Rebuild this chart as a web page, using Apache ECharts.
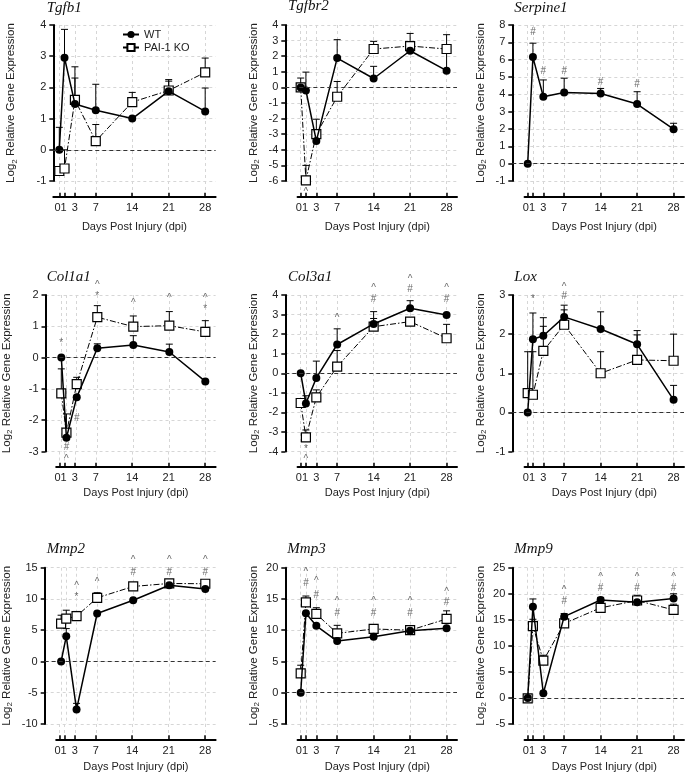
<!DOCTYPE html>
<html>
<head>
<meta charset="utf-8">
<script src="https://cdn.jsdelivr.net/npm/echarts@6/dist/echarts.min.js"></script>
<style>html,body{margin:0;padding:0;background:#fff;}#c{width:685px;height:776px;}</style>
</head>
<body>
<div id="c"></div>
<script>
const days = [0, 1, 3, 7, 14, 21, 28];
const dayLabelValues = [1, 3, 7, 14, 21, 28];
const xAxisTitle = 'Days Post Injury (dpi)';
const yAxisTitle = 'Log{s|2} Relative Gene Expression';

const tgfb1WT = [0, 2.95, 1.47, 1.27, 1.0, 1.88, 1.23];
const tgfb1WTErr = [0.72, 3.86, 2.3, 2.1, null, 2.25, 1.98];
const tgfb1KO = [-0.68, -0.6, 1.6, 0.28, 1.53, 1.9, 2.48];
const tgfb1KOErr = [null, 0.0, 2.66, 0.81, 1.84, 2.2, 2.94];
const tgfb1Notes = [];

const tgfbr2WT = [0, -0.2, -3.43, 1.88, 0.57, 2.35, 1.07];
const tgfbr2WTErr = [null, 0.98, null, 3.06, 1.35, null, 2.2];
const tgfbr2KO = [0.0, -5.96, -3.0, -0.6, 2.46, 2.65, 2.46];
const tgfbr2KOErr = [0.6, -5.0, -2.04, 0.38, 2.95, 3.46, 3.38];
const tgfbr2Notes = [[1, -6.75, '^']];

const serpine1WT = [0, 6.15, 3.86, 4.1, 4.05, 3.44, 1.99];
const serpine1WTErr = [null, 6.95, 4.83, 4.93, 4.34, 4.15, 2.33];
const serpine1Notes = [[1, 7.58, '#'], [3, 5.33, '#'], [7, 5.33, '#'], [14, 4.72, '#'], [21, 4.58, '#']];

const col1a1WT = [0, -2.56, -1.27, 0.3, 0.4, 0.18, -0.76];
const col1a1WTErr = [null, null, null, 0.44, 0.7, 0.43, null];
const col1a1KO = [-1.14, -2.4, -0.85, 1.29, 0.99, 1.02, 0.82];
const col1a1KOErr = [-0.36, -1.8, -0.63, 1.66, 1.33, 1.47, 1.18];
const col1a1Notes = [[0, 0.46, '*'], [1, -2.88, '#'], [1, -3.25, '^'], [3, -1.95, '#'], [7, 1.97, '*'], [7, 2.31, '^'],
  [14, 1.75, '^'], [21, 1.89, '^'], [28, 1.54, '*'], [28, 1.89, '^']];

const col3a1WT = [0, -1.54, -0.24, 1.47, 2.52, 3.32, 2.98];
const col3a1WTErr = [null, -1.15, 0.62, 2.27, 3.15, 3.71, null];
const col3a1KO = [-1.52, -3.28, -1.23, 0.34, 2.38, 2.64, 1.79];
const col3a1KOErr = [null, -2.9, -0.85, 1.16, 2.8, null, 2.5];
const col3a1Notes = [[1, -3.88, '*'], [1, -4.4, '^'], [7, 2.82, '^'], [14, 3.8, '#'], [14, 4.34, '^'],
  [21, 4.3, '#'], [21, 4.8, '^'], [28, 3.8, '#'], [28, 4.34, '^']];

const loxWT = [0, 1.87, 1.96, 2.44, 2.13, 1.74, 0.32];
const loxWTErr = [null, 2.54, 2.42, 2.74, 2.57, 2.09, 0.69];
const loxKO = [0.49, 0.45, 1.57, 2.24, 1.0, 1.34, 1.32];
const loxKOErr = [1.55, 1.55, 2.2, 2.62, 1.55, 1.98, 2.0];
const loxNotes = [[1, 2.9, '*'], [7, 2.98, '#'], [7, 3.21, '^']];

const mmp2WT = [0, 4.03, -7.7, 7.67, 9.8, 12.2, 11.6];
const mmp2WTErr = [null, 5.26, -6.7, null, null, null, null];
const mmp2KO = [6.06, 6.86, 7.24, 10.18, 12.0, 12.48, 12.43];
const mmp2KOErr = [7.4, 8.2, 8.0, 11.0, null, null, null];
const mmp2Notes = [[3, 10.34, '*'], [3, 12.06, '^'], [7, 12.75, '^'], [14, 14.2, '#'], [14, 16.2, '^'],
  [21, 14.2, '#'], [21, 16.2, '^'], [28, 14.2, '#'], [28, 16.2, '^']];

const mmp3WT = [0, 12.7, 10.7, 8.27, 8.97, 9.93, 10.3];
const mmp3WTErr = [null, null, null, null, null, null, null];
const mmp3KO = [3.1, 14.46, 12.6, 9.5, 10.2, 10.0, 11.8];
const mmp3KOErr = [4.4, 15.47, 13.6, 10.78, 10.7, 10.67, 13.1];
const mmp3Notes = [[1, 17.5, '#'], [1, 19.3, '^'], [3, 15.6, '#'], [3, 17.76, '^'], [7, 12.7, '#'], [7, 14.56, '^'],
  [14, 12.7, '#'], [14, 14.56, '^'], [21, 12.7, '#'], [21, 14.56, '^'], [28, 14.46, '#'], [28, 16.0, '^']];

const mmp9WT = [0, 17.5, 0.9, 15.6, 18.8, 18.35, 19.1];
const mmp9WTErr = [null, 19.0, null, 16.2, 19.3, 19.7, 20.0];
const mmp9KO = [-0.1, 13.8, 7.15, 14.3, 17.3, 18.7, 16.9];
const mmp9KOErr = [null, 15.1, 8.2, 15.4, 18.2, 19.3, 18.0];
const mmp9Notes = [[7, 18.5, '#'], [7, 20.7, '^'], [14, 21, '#'], [14, 23.1, '^'], [21, 21, '#'], [21, 23.1, '^'],
  [28, 21, '#'], [28, 23.1, '^']];

const panels = [
  {title: 'Tgfb1', wt: tgfb1WT, wtErr: tgfb1WTErr, ko: tgfb1KO, koErr: tgfb1KOErr, notes: tgfb1Notes, yMin: -1, yMax: 4, yInt: 1},
  {title: 'Tgfbr2', wt: tgfbr2WT, wtErr: tgfbr2WTErr, ko: tgfbr2KO, koErr: tgfbr2KOErr, notes: tgfbr2Notes, yMin: -6, yMax: 4, yInt: 1},
  {title: 'Serpine1', wt: serpine1WT, wtErr: serpine1WTErr, ko: null, koErr: null, notes: serpine1Notes, yMin: -1, yMax: 8, yInt: 1},
  {title: 'Col1a1', wt: col1a1WT, wtErr: col1a1WTErr, ko: col1a1KO, koErr: col1a1KOErr, notes: col1a1Notes, yMin: -3, yMax: 2, yInt: 1},
  {title: 'Col3a1', wt: col3a1WT, wtErr: col3a1WTErr, ko: col3a1KO, koErr: col3a1KOErr, notes: col3a1Notes, yMin: -4, yMax: 4, yInt: 1},
  {title: 'Lox', wt: loxWT, wtErr: loxWTErr, ko: loxKO, koErr: loxKOErr, notes: loxNotes, yMin: -1, yMax: 3, yInt: 1},
  {title: 'Mmp2', wt: mmp2WT, wtErr: mmp2WTErr, ko: mmp2KO, koErr: mmp2KOErr, notes: mmp2Notes, yMin: -10, yMax: 15, yInt: 5},
  {title: 'Mmp3', wt: mmp3WT, wtErr: mmp3WTErr, ko: mmp3KO, koErr: mmp3KOErr, notes: mmp3Notes, yMin: -5, yMax: 20, yInt: 5},
  {title: 'Mmp9', wt: mmp9WT, wtErr: mmp9WTErr, ko: mmp9KO, koErr: mmp9KOErr, notes: mmp9Notes, yMin: -5, yMax: 25, yInt: 5}
];

// ---- layout (pixels) ----
const PX_PER_DAY = 5.21;
const X_MAX = 30;
const colDay0 = [59.3, 300.7, 527.7];
const rowTop = [25, 295, 567.7];
const rowBottom = [181, 451.5, 724];
const rowAxisLine = [196.7, 466.7, 739.3];
const rowXNameGap = [25, 21, 22];
const panelAxisX = [53.3, 285.3, 512.3, 43.3, 285.3, 512.3, 42.7, 285.3, 512.3];
const panelXStart = [-1.15, -0.6, -0.6, -0.6, -0.6, -0.6, -0.6, -0.6, -0.6];
const panelYNameGap = [35, 24.6, 24.6, 31.5, 24.6, 24.6, 30.7, 24.6, 24.6];
const titlePos = [[46.7, 8.3], [288, 7], [514.3, 8.3], [46.7, 277.7], [288, 277.7], [514.3, 277.7], [46.7, 550], [287.3, 550], [514.3, 550]];

const FONT = 'Liberation Sans';
const gridLineStyle = {color: '#d6d6d6', type: [3, 3], width: 1};

const grids = [], xAxes = [], yAxes = [], series = [], titles = [];

function errRender(params, api) {
  const x = api.value(0), v = api.value(1), e = api.value(2);
  const p0 = api.coord([x, v]);
  const p1 = api.coord([x, e]);
  return {
    type: 'group',
    children: [
      {type: 'line', shape: {x1: p0[0], y1: p0[1], x2: p1[0], y2: p1[1]}, style: {stroke: '#000', lineWidth: 1}},
      {type: 'line', shape: {x1: p1[0] - 3.5, y1: p1[1], x2: p1[0] + 3.5, y2: p1[1]}, style: {stroke: '#000', lineWidth: 1}}
    ]
  };
}

panels.forEach((p, i) => {
  const row = Math.floor(i / 3), col = i % 3;
  const day0 = colDay0[col];
  const rightPx = day0 + X_MAX * PX_PER_DAY;
  const axisX = panelAxisX[i];
  const xMinA = (axisX - day0) / PX_PER_DAY;
  const startPx = day0 + panelXStart[i] * PX_PER_DAY;
  const gA = 2 * i, gB = 2 * i + 1;

  grids.push({left: axisX, top: rowTop[row], width: rightPx - axisX, height: rowBottom[row] - rowTop[row]});
  grids.push({left: startPx, top: rowBottom[row], width: rightPx - startPx, height: rowAxisLine[row] - rowBottom[row]});

  xAxes.push({
    type: 'value', gridIndex: gA, min: xMinA, max: X_MAX,
    axisLine: {show: false, onZero: false},
    axisTick: {show: false, customValues: days},
    axisLabel: {show: false, customValues: days},
    splitLine: {show: true, lineStyle: gridLineStyle}
  });
  xAxes.push({
    type: 'value', gridIndex: gB, min: panelXStart[i], max: X_MAX, position: 'bottom',
    axisLine: {show: true, onZero: false, lineStyle: {color: '#000', width: 2}},
    axisTick: {show: true, inside: true, length: 4, customValues: days, lineStyle: {color: '#000', width: 1.5}},
    axisLabel: {
      show: true, customValues: dayLabelValues, fontSize: 11, color: '#222', margin: 6, fontFamily: FONT, hideOverlap: false,
      formatter: v => (v === 1 ? '{a|01}' : String(v)),
      rich: {a: {fontSize: 11, color: '#222', fontFamily: FONT, padding: [0, 8, 0, 0]}}
    },
    splitLine: {show: true, lineStyle: gridLineStyle},
    name: xAxisTitle, nameLocation: 'middle', nameGap: rowXNameGap[row],
    nameTextStyle: {fontSize: 11, color: '#222', fontFamily: FONT}
  });
  yAxes.push({
    type: 'value', gridIndex: gA, min: p.yMin, max: p.yMax, interval: p.yInt,
    axisLine: {show: true, onZero: false, lineStyle: {color: '#000', width: 2}},
    axisTick: {show: true, length: 4, lineStyle: {color: '#000', width: 1.5}},
    axisLabel: {fontSize: 11, color: '#222', margin: 7, fontFamily: FONT},
    splitLine: {show: true, lineStyle: gridLineStyle},
    name: yAxisTitle, nameLocation: 'middle', nameRotate: 90, nameGap: panelYNameGap[i],
    nameTextStyle: {fontSize: 11.5, color: '#222', fontFamily: FONT, rich: {s: {fontSize: 8, fontFamily: FONT, color: '#222', padding: [6, 0, 0, 0]}}}
  });
  yAxes.push({type: 'value', gridIndex: gB, min: 0, max: 1, show: false});

  titles.push({
    text: p.title, left: titlePos[i][0], top: titlePos[i][1] - 8, padding: 0,
    textStyle: {fontFamily: 'Liberation Serif', fontStyle: 'italic', fontWeight: 'normal', fontSize: 15, color: '#111'}
  });

  series.push({
    type: 'line', name: 'WT', xAxisIndex: gA, yAxisIndex: gA, z: 4,
    data: days.map((d, j) => [d, p.wt[j]]),
    symbol: 'circle', symbolSize: 8,
    lineStyle: {color: '#000', width: 1.5},
    itemStyle: {color: '#000'},
    markLine: {silent: true, symbol: 'none', label: {show: false}, lineStyle: {color: '#333', type: [4, 3], width: 1}, data: [{yAxis: 0}], animation: false},
    animation: false
  });
  series.push({
    type: 'custom', xAxisIndex: gA, yAxisIndex: gA, z: 2, renderItem: errRender, clip: false,
    data: days.map((d, j) => [d, p.wt[j], p.wtErr[j]]).filter(r => r[2] !== null && r[2] !== undefined),
    animation: false
  });
  if (p.ko) {
    series.push({
      type: 'line', name: 'PAI-1 KO', xAxisIndex: gA, yAxisIndex: gA, z: 3,
      data: days.map((d, j) => [d, p.ko[j]]),
      symbol: 'rect', symbolSize: 9,
      lineStyle: {color: '#000', width: 1, type: [6, 2, 1.5, 2]},
      itemStyle: {color: '#fff', borderColor: '#000', borderWidth: 1.2},
      animation: false
    });
    series.push({
      type: 'custom', xAxisIndex: gA, yAxisIndex: gA, z: 2, renderItem: errRender, clip: false,
      data: days.map((d, j) => [d, p.ko[j], p.koErr[j]]).filter(r => r[2] !== null && r[2] !== undefined),
      animation: false
    });
  }
  if (p.notes.length) {
    series.push({
      type: 'scatter', xAxisIndex: gA, yAxisIndex: gA, z: 5, clip: false, silent: true,
      symbol: 'circle', symbolSize: 1, itemStyle: {color: 'rgba(0,0,0,0)'},
      data: p.notes.map(n => ({value: [n[0], n[1]], label: {formatter: n[2]}})),
      label: {show: true, position: 'inside', fontSize: 10, color: '#444', fontFamily: FONT},
      animation: false
    });
  }
});

const chart = echarts.init(document.getElementById('c'), null, {renderer: 'canvas'});
chart.setOption({
  backgroundColor: '#fff',
  animation: false,
  title: titles,
  legend: {
    data: ['WT', 'PAI-1 KO'], orient: 'vertical', left: 122, top: 29, padding: 0, itemWidth: 16, itemHeight: 9, itemGap: 2,
    textStyle: {fontSize: 11, color: '#222', fontFamily: FONT}, selectedMode: false
  },
  grid: grids,
  xAxis: xAxes,
  yAxis: yAxes,
  series: series
});
</script>
</body>
</html>
